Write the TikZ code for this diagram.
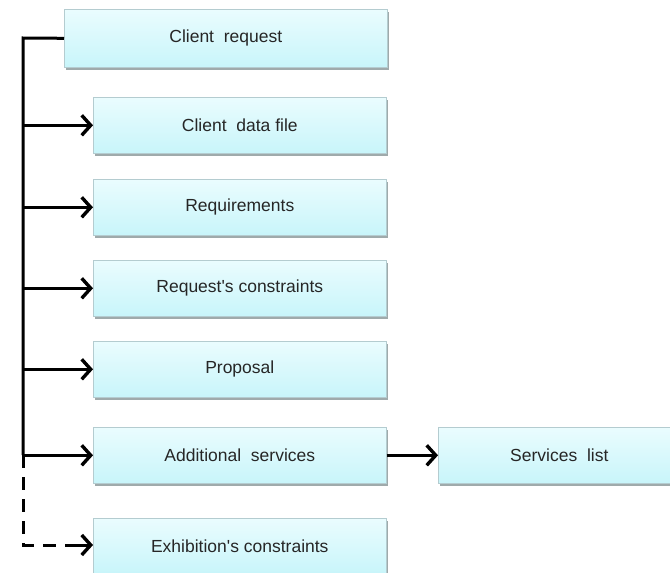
\documentclass[tikz,border=0pt]{standalone}
\usepackage{fontspec}
\setmainfont{Liberation Sans}
\usetikzlibrary{arrows.meta,shadows,shadings}
\definecolor{boxtop}{HTML}{EAFCFE}
\definecolor{boxbot}{HTML}{C8F5FA}
\definecolor{boxline}{HTML}{B4CCD0}
\definecolor{shade}{HTML}{7F8E90}
\tikzset{
  card/.style={draw=boxline, line width=0.6pt, top color=boxtop, bottom color=boxbot,
    drop shadow={shadow xshift=1.5pt, shadow yshift=-3pt, fill=shade, opacity=0.75},
    font=\fontsize{17.5}{20}\selectfont, text=black!85, inner sep=0pt, anchor=north west},
  link/.style={line width=3pt, -{Straight Barb[length=9pt, width=20pt, line width=3.4pt]}},
  trunk/.style={line width=3pt},
  dashlink/.style={line width=3pt, dash pattern=on 13pt off 9pt},
}
\begin{document}
\begin{tikzpicture}[x=1pt, y=-1pt]
  \useasboundingbox (0,0) rectangle (670,573);
  \clip (0,0) rectangle (670,573);
  \fill[white] (0,0) rectangle (670,573);

  % document boxes
  \node[card, minimum width=323pt, minimum height=58pt] (cr) at (64,9) {Client\ \ request};
  \node[card, minimum width=293pt, minimum height=56pt] (cdf) at (93,97) {Client\ \ data file};
  \node[card, minimum width=293pt, minimum height=56pt] (req) at (93,179) {Requirements};
  \node[card, minimum width=293pt, minimum height=56pt] (rc) at (93,260) {Request\textquotesingle s constraints};
  \node[card, minimum width=293pt, minimum height=56pt] (prop) at (93,341) {Proposal};
  \node[card, minimum width=293pt, minimum height=56pt] (as) at (93,427) {Additional\ \ services};
  \node[card, minimum width=234pt, minimum height=56pt] (sl) at (438,427) {\hspace{8pt}Services\ \ list};
  \node[card, minimum width=293pt, minimum height=56pt] (ex) at (93,518) {Exhibition\textquotesingle s constraints};

  % branching connectors
  \coordinate (top) at (23,38);
  \coordinate (split) at (23,455);
  \coordinate (bottom) at (23,545);
  \draw[trunk] (cr.west) -- (top) -- (split);
  \foreach \n in {cdf,req,rc,prop,as}
    \draw[link] (split |- \n.west) -- (\n.west);
  \draw[link] (as.east) -- (sl.west);
  \draw[dashlink] (split) -- (bottom) -- ([xshift=-14pt]ex.west |- bottom);
  \draw[link] ([xshift=-17pt]ex.west |- bottom) -- (ex.west |- bottom);
\end{tikzpicture}
\end{document}
